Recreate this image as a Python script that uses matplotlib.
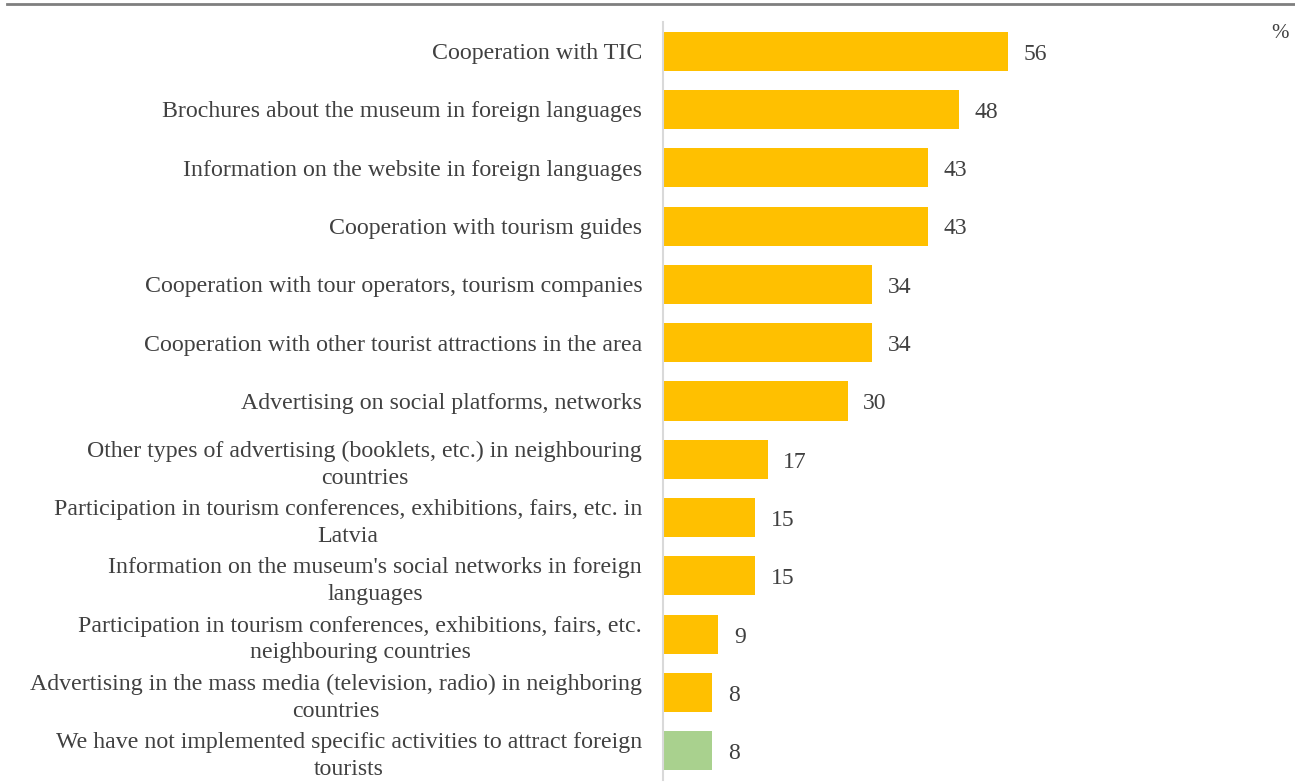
import matplotlib
matplotlib.use("Agg")
import matplotlib.pyplot as plt

categories = [
    "Cooperation with TIC",
    "Brochures about the museum in foreign languages",
    "Information on the website in foreign languages",
    "Cooperation with tourism guides",
    "Cooperation with tour operators, tourism companies",
    "Cooperation with other tourist attractions in the area",
    "Advertising on social platforms, networks",
    "Other types of advertising (booklets, etc.) in neighbouring\ncountries",
    "Participation in tourism conferences, exhibitions, fairs, etc. in\nLatvia",
    "Information on the museum's social networks in foreign\nlanguages",
    "Participation in tourism conferences, exhibitions, fairs, etc.\nneighbouring countries",
    "Advertising in the mass media (television, radio) in neighboring\ncountries",
    "We have not implemented specific activities to attract foreign\ntourists",
]
values = [56, 48, 43, 43, 34, 34, 30, 17, 15, 15, 9, 8, 8]
colors = ["#FFC000"] * 12 + ["#A9D18E"]

plt.rcParams['font.family'] = ['Liberation Serif', 'DejaVu Serif']

fig = plt.figure(figsize=(12.95, 7.83), dpi=100)
ax = fig.add_axes([663/1295, 3/783, (1279-663)/1295, (780-22)/783])

y = list(range(len(categories)))
ax.barh(y, values, height=0.67, color=colors)
ax.set_ylim(len(categories) - 0.5, -0.5)
ax.set_xlim(0, 100)

for yi, v in zip(y, values):
    ax.text(v + 2.5, yi + 0.05, f"{v}", va="center", ha="left", fontsize=17, color="#404040")

ax.set_yticks(y)
ax.set_yticklabels(categories, fontsize=17.2, color="#404040", multialignment="center",
                   linespacing=1.35)
ax.tick_params(axis="y", length=0, pad=15)
ax.set_xticks([])
for s in ["top", "right", "bottom"]:
    ax.spines[s].set_visible(False)
ax.spines["left"].set_color("#D9D9D9")
ax.spines["left"].set_linewidth(1.5)

fig.text(1280/1295, 1 - 33/783, "%", ha="center", va="center", fontsize=15, color="#404040")

# top rule
fig.add_artist(plt.Line2D([7/1295, 1.0], [1 - 4/783, 1 - 4/783], color="#7F7F7F", linewidth=2))

fig.savefig("out.png", dpi=100)
